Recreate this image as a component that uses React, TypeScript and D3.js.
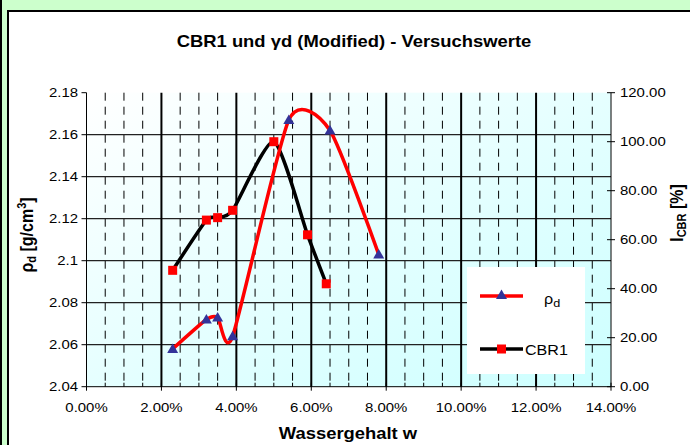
import React from "react";
import * as d3 from "d3";

const rhoW = [0.023, 0.032, 0.035, 0.039, 0.054, 0.065, 0.078];
const rhoVal = [2.058, 2.072, 2.073, 2.064, 2.167, 2.162, 2.103];
const cbrW = [0.023, 0.032, 0.035, 0.039, 0.05, 0.059, 0.064];
const cbrVal = [47.5, 68, 69, 72, 100, 62, 42];
const xTicks = [0, 0.02, 0.04, 0.06, 0.08, 0.1, 0.12, 0.14];
const yTicks = [2.04, 2.06, 2.08, 2.1, 2.12, 2.14, 2.16, 2.18];
const yTickLabels = ["2.04", "2.06", "2.08", "2.1", "2.12", "2.14", "2.16", "2.18"];
const y2Ticks = [0, 20, 40, 60, 80, 100, 120];

const W = 690;
const H = 445;
const L = 86.5;
const R = 611;
const T = 92.7;
const B = 386.7;
const SX = 1.15;
const FONT = "'Liberation Sans', Arial, sans-serif";

function Txt(props: any) {
  const { x, y, anchor = "start", size = 13, weight = "normal", rotate = false, children } = props;
  const tr = rotate
    ? `translate(${x},${y}) scale(${SX},1) rotate(-90)`
    : `translate(${x},${y}) scale(${SX},1)`;
  return (
    <text transform={tr} textAnchor={anchor} fontSize={size} fontWeight={weight} fontFamily={FONT} fill="#000">
      {children}
    </text>
  );
}

export default function App() {
  const x = d3.scaleLinear().domain([0, 0.14]).range([L, R]);
  const y = d3.scaleLinear().domain([2.04, 2.18]).range([B, T]);
  const y2 = d3.scaleLinear().domain([0, 120]).range([B, T]);
  const fmtX = d3.format(".2%");
  const fmtY2 = d3.format(".2f");

  const rhoPts: [number, number][] = rhoW.map((w, i) => [x(w), y(rhoVal[i])]);
  const cbrPts: [number, number][] = cbrW.map((w, i) => [x(w), y2(cbrVal[i])]);
  const line = d3.line().curve(d3.curveCardinal.tension(0.35));

  const minor = d3.range(0, 29).map((i) => i * 0.005).filter((v, i) => i % 4 !== 0);
  const major = [0.02, 0.04, 0.06, 0.08, 0.1, 0.12];

  const tri = (cx: number, cy: number) => `M${cx},${cy - 5.5}L${cx + 5.5},${cy + 4}L${cx - 5.5},${cy + 4}Z`;

  return (
    <svg width={W} height={H} style={{ position: "absolute", left: 0, top: 0 }}>
      <defs>
        <linearGradient id="bg" x1="0" y1="0" x2="1" y2="1">
          <stop offset="0" stopColor="#FFFFFF" />
          <stop offset="1" stopColor="#CCFFFF" />
        </linearGradient>
      </defs>
      <rect x={0} y={0} width={W} height={H} fill="#CCFFCC" />
      <rect x={0} y={0} width={2} height={H} fill="#000" />
      <rect x={7} y={10} width={W - 7} height={H - 10} fill="#000" />
      <rect x={9} y={12} width={W - 9} height={H - 12} fill="#fff" />

      <rect x={L} y={T} width={R - L} height={B - T} fill="url(#bg)" />

      {/* minor dashed verticals */}
      {minor.map((v) => (
        <line key={"m" + v} x1={x(v)} x2={x(v)} y1={T} y2={B} stroke="#000" strokeWidth={1} strokeDasharray="8,6" />
      ))}
      {/* horizontal gridlines */}
      {yTicks.slice(1, -1).map((v) => (
        <line key={"h" + v} x1={L} x2={R} y1={y(v)} y2={y(v)} stroke="#222" strokeWidth={1.3} />
      ))}
      {/* major verticals */}
      {major.map((v) => (
        <line key={"M" + v} x1={x(v)} x2={x(v)} y1={T} y2={B} stroke="#000" strokeWidth={2} />
      ))}

      {/* axes */}
      <line x1={L} x2={L} y1={T} y2={B} stroke="#000" strokeWidth={1} />
      <line x1={R} x2={R} y1={T} y2={B} stroke="#000" strokeWidth={1} />
      <line x1={L} x2={R} y1={B} y2={B} stroke="#000" strokeWidth={1} />
      {yTicks.map((v) => (
        <line key={"lt" + v} x1={L - 5} x2={L} y1={y(v)} y2={y(v)} stroke="#000" />
      ))}
      {y2Ticks.map((v) => (
        <line key={"rt" + v} x1={R - 4} x2={R + 4} y1={y2(v)} y2={y2(v)} stroke="#000" />
      ))}
      {xTicks.map((v) => (
        <line key={"bt" + v} x1={x(v)} x2={x(v)} y1={B - 4} y2={B + 4} stroke="#000" />
      ))}
      {minor.map((v) => (
        <line key={"bm" + v} x1={x(v)} x2={x(v)} y1={B - 4} y2={B} stroke="#000" />
      ))}

      {/* series */}
      <path d={line(cbrPts) || ""} fill="none" stroke="#000" strokeWidth={3.5} />
      <path d={line(rhoPts) || ""} fill="none" stroke="#FF0000" strokeWidth={3.5} />
      {cbrPts.map((p, i) => (
        <rect key={"s" + i} x={p[0] - 4.5} y={p[1] - 4.5} width={9} height={9} fill="#FF0000" />
      ))}
      {rhoPts.map((p, i) => (
        <path key={"t" + i} d={tri(p[0], p[1])} fill="#333399" />
      ))}

      {/* legend */}
      <rect x={467} y={267} width={118} height={107} fill="#fff" />
      <line x1={480} x2={523} y1={296} y2={296} stroke="#FF0000" strokeWidth={3.5} />
      <path d={tri(501.5, 295)} fill="#333399" />
      <Txt x={544} y={304} size={14}>
        <tspan>ρ</tspan>
        <tspan dy={3} fontSize={11}>d</tspan>
      </Txt>
      <line x1={480} x2={523} y1={349} y2={349} stroke="#000" strokeWidth={3.5} />
      <rect x={497} y={344.5} width={9} height={9} fill="#FF0000" />
      <Txt x={525} y={355} size={14}>CBR1</Txt>

      {/* tick labels */}
      {yTicks.map((v, i) => (
        <Txt key={"yl" + v} x={78} y={y(v) + 4.5} anchor="end" size={13}>
          {yTickLabels[i]}
        </Txt>
      ))}
      {y2Ticks.map((v) => (
        <Txt key={"y2l" + v} x={620} y={y2(v) + 4.5} size={13}>
          {fmtY2(v)}
        </Txt>
      ))}
      {xTicks.map((v) => (
        <Txt key={"xl" + v} x={x(v)} y={412} anchor="middle" size={13}>
          {fmtX(v)}
        </Txt>
      ))}

      {/* titles */}
      <Txt x={354} y={47} anchor="middle" size={16} weight="bold">
        CBR1 und γd (Modified) - Versuchswerte
      </Txt>
      <Txt x={348} y={439} anchor="middle" size={16} weight="bold">
        Wassergehalt w
      </Txt>
      <Txt x={33} y={235} anchor="middle" size={16} weight="bold" rotate>
        <tspan>ρ</tspan>
        <tspan dy={3} fontSize={11}>d</tspan>
        <tspan dy={-3}> [g/cm</tspan>
        <tspan dy={-6} fontSize={11}>3</tspan>
        <tspan dy={6}>]</tspan>
      </Txt>
      <Txt x={683} y={213} anchor="middle" size={16} weight="bold" rotate>
        <tspan>I</tspan>
        <tspan dy={3} fontSize={11}>CBR</tspan>
        <tspan dy={-3}> [%]</tspan>
      </Txt>
    </svg>
  );
}
